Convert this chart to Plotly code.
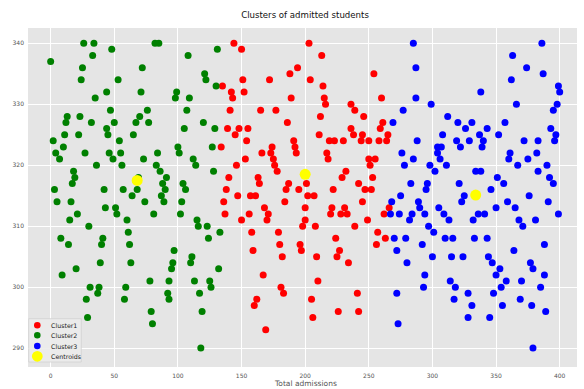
import plotly.graph_objects as go

# ---------------- data ----------------
cluster1_points = [
    (144,340),(150,339),(194,336),(188,335),(151,334),(172,334),(135,333),(142,332),(152,332),(143,331),
    (189,331),(141,329),(165,329),(177,329),(186,327),(139,326),(148,326),(155,326),(145,325),(154,324),
    (191,324),(192,323),(134,323),(174,323),
    (166,322),(173,322),(193,322),(153,321),(175,321),(146,320),(176,320),(178,319),(140,318),(163,318),
    (164,317),(187,317),(138,316),(185,316),(195,316),(147,315),(157,315),(161,315),(136,314),(184,314),
    (168,313),(171,312),(170,311),(137,312),(156,312),(150,311),(198,310),(158,309),(179,309),(180,307),
    (196,307),(197,306),(159,306),(182,305),
    (203,340),(213,338),(254,335),(204,334),(214,333),(215,331),(216,330),(260,331),(236,330),(239,329),
    (212,328),(246,328),(261,327),(259,326),(236,326),(238,325),(211,325),(245,325),(244,324),(265,325),
    (264,324),(219,324),(223,324),(230,324),(250,324),(258,324),
    (217,322),(218,321),(250,321),(255,321),(251,320),(232,319),(229,318),(253,318),(201,317),(242,317),
    (247,316),(252,316),(222,316),(202,315),(207,315),(245,314),(200,313),(221,313),(220,312),(231,313),
    (228,312),(233,312),(266,313),(262,312),(200,311),(249,311),(208,310),(239,310),(257,309),(263,308),
    (224,308),(256,307),(227,306),(225,305),(209,305),(234,304),
    (167,302),(181,300),(183,299),(162,298),(160,297),(169,293),
    (210,301),(205,298),(241,299),(226,296),(242,296),(206,295),
]

cluster2_points = [
    (26,340),(34,340),(48,339),(82,340),(85,340),(33,338),(0,337),(25,336),(72,336),(24,334),
    (53,334),(44,332),(71,332),(35,331),(47,329),(76,329),(13,328),(23,328),(70,328),(12,327),
    (32,327),(50,327),(67,327),(77,327),(44,326),(45,325),(11,325),(22,325),(65,325),(2,324),
    (54,324),(10,323),
    (4,322),(27,322),(46,322),(55,322),(84,322),(7,321),(49,321),(73,321),(36,320),(56,320),
    (83,320),(18,319),(86,319),(19,318),(69,318),(91,318),(17,317),(88,317),(3,316),(42,316),
    (57,316),(68,316),(90,316),(64,315),(87,315),(5,314),(16,314),(74,314),(89,314),(43,313),
    (51,313),(21,312),(52,312),(81,312),(15,311),(60,311),(30,310),(61,309),(8,308),(41,308),
    (14,307),(40,307),(62,307),(39,304),(63,304),
    (20,303),(9,302),(31,300),(38,300),(59,300),(78,301),(37,299),(92,299),(28,298),(58,298),
    (79,296),(29,295),(80,294),
    (131,339),(108,338),(121,335),(122,334),(130,333),(99,332),(98,331),(109,331),(107,329),(120,327),
    (105,326),(129,326),(100,323),(127,323),
    (101,322),(112,321),(114,320),(128,319),(104,317),(106,316),(103,314),(102,312),(115,311),(116,310),
    (123,310),(133,309),(124,308),(97,306),(111,305),(110,304),(96,304),
    (95,303),(132,303),(93,301),(113,301),(125,301),(126,300),(93,298),(117,299),(119,296),(118,290),
]

cluster3_points = [
    (285,340),(287,336),(287,331),(299,330),(277,329),(269,327),(288,324),(304,323),(307,323),
    (386,340),(363,338),(374,336),(387,335),(362,334),(338,332),(399,333),(400,332),(366,330),(398,330),
    (395,329),(312,328),(320,327),(331,327),(326,326),(343,326),(357,327),(393,326),(397,325),(308,325),
    (337,325),(352,325),(319,324),(329,324),(340,324),(372,324),(383,324),(396,324),(322,323),(339,323),
    (276,322),(285,321),(278,320),(304,322),(306,321),(298,320),(302,319),(283,317),(296,317),(295,316),
    (275,315),(268,314),(289,314),(290,313),(305,313),(267,312),(274,312),(284,312),(282,311),(294,312),
    (297,310),(301,309),(270,308),(279,308),(292,307),(272,306),(300,305),(280,304),
    (311,320),(361,322),(360,321),(382,322),(375,321),(367,320),(390,320),(334,319),(338,319),(383,319),
    (351,318),(392,318),(395,317),(356,317),(321,317),(346,316),(376,315),(325,315),(323,314),(359,314),
    (391,314),(309,312),(313,311),(350,313),(365,313),(336,312),(341,312),(332,311),(399,312),(368,311),
    (371,310),(381,311),(310,308),(316,308),(333,308),(343,308),(388,307),(364,306),(315,305),(324,305),
    (344,305),(347,304),(377,304),
    (353,303),(350,302),(379,303),(388,302),(314,301),(358,301),(370,301),(318,300),(354,300),(385,300),
    (328,299),(348,299),(317,298),(369,298),(331,297),(355,297),(378,297),(389,296),(328,295),(345,295),
    (379,290),
    (294,302),(293,300),(272,299),(273,294),
]

centroid_x = [200, 68, 334]
centroid_y = [318.5, 317.5, 315.1]

series_names = ["Cluster1", "Cluster2", "Cluster3", "Centroids"]
series_colors = ["red", "green", "blue", "yellow"]

x_ticks = [0, 50, 100, 150, 200, 250, 300, 350, 400]
y_ticks = [290, 300, 310, 320, 330, 340]

title_text = "Clusters of admitted students"
x_label = "Total admissions"

# ---------------- figure ----------------
W, H = 584, 389
L, R, T, B = 28, 7, 28, 22
PW, PH = W - L - R, H - T - B

FONT = "DejaVu Sans"

fig = go.Figure()
for pts, name, col in zip([cluster1_points, cluster2_points, cluster3_points],
                          series_names[:3], series_colors[:3]):
    fig.add_trace(go.Scatter(
        x=[p[0] for p in pts], y=[p[1] for p in pts], mode="markers", name=name,
        marker=dict(color=col, size=7, line=dict(width=0)), showlegend=False))

fig.add_trace(go.Scatter(
    x=centroid_x, y=centroid_y, mode="markers", name=series_names[3],
    marker=dict(color=series_colors[3], size=11, line=dict(width=0)), showlegend=False))


def px2paper(px, py):
    return (px - L) / PW, (H - B - py) / PH


# custom compact legend (bottom-left, like matplotlib)
shapes = []
annotations = []
bx0, by0 = px2paper(28.7, 362)
bx1, by1 = px2paper(81.3, 318.7)
shapes.append(dict(type="rect", xref="paper", yref="paper", x0=bx0, y0=by0, x1=bx1, y1=by1,
                   fillcolor="rgba(235,235,235,0.9)", line=dict(color="#d2d2d2", width=0.8), layer="above"))
rows_py = [325.3, 335.3, 346.0, 356.3]
radii = [3.3, 3.3, 3.3, 5.4]
for name, col, py, r in zip(series_names, series_colors, rows_py, radii):
    mx, my = px2paper(37.3, py)
    shapes.append(dict(type="circle", xref="paper", yref="paper", xsizemode="pixel", ysizemode="pixel",
                       xanchor=mx, yanchor=my, x0=-r, x1=r, y0=-r, y1=r,
                       fillcolor=col, line=dict(width=0), layer="above"))
    tx, ty = px2paper(48.5, py)
    annotations.append(dict(xref="paper", yref="paper", x=tx, y=ty, xanchor="left", yanchor="middle",
                            text=name, showarrow=False, font=dict(family=FONT, size=6.3, color="#222")))

# x axis label
lx, ly = px2paper(305, 383)
annotations.append(dict(xref="paper", yref="paper", x=lx, y=ly, xanchor="center", yanchor="middle",
                        text=x_label, showarrow=False, font=dict(family=FONT, size=7.5, color="#555")))

fig.update_layout(
    width=W, height=H,
    margin=dict(l=L, r=R, t=T, b=B, pad=0),
    paper_bgcolor="white", plot_bgcolor="#E5E5E5",
    title=dict(text=title_text, x=(305) / W, xanchor="center", y=1 - 15 / H, yanchor="middle",
               font=dict(family=FONT, size=8.6, color="#111")),
    font=dict(family=FONT),
    hovermode=False,
    xaxis=dict(range=[-17.8, 413.6], tickvals=x_ticks, ticktext=[str(v) for v in x_ticks],
               showgrid=True, gridcolor="white", gridwidth=1, zeroline=False, showline=False,
               ticks="", ticklabelstandoff=4, tickfont=dict(family=FONT, size=6, color="#555")),
    yaxis=dict(range=[286.9, 342.5], tickvals=y_ticks, ticktext=[str(v) for v in y_ticks],
               showgrid=True, gridcolor="white", gridwidth=1, zeroline=False, showline=False,
               ticks="", ticklabelstandoff=3, tickfont=dict(family=FONT, size=6, color="#555")),
    shapes=shapes, annotations=annotations, showlegend=False,
)

fig.write_html("out.html",
               config={"displayModeBar": False, "staticPlot": True},
               post_script="document.body.style.margin='0';document.body.style.padding='0';"
                           "document.documentElement.style.margin='0';")
